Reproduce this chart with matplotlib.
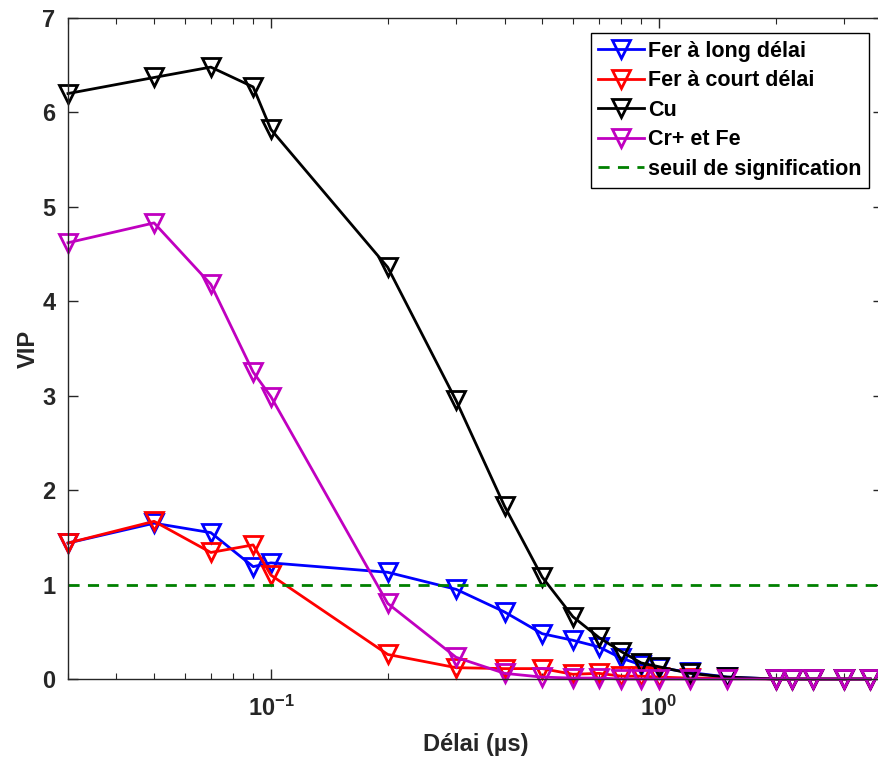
import numpy as np
import matplotlib.pyplot as plt

plt.rcParams['font.family'] = ['Liberation Sans', 'DejaVu Sans']
plt.rcParams['font.weight'] = 'bold'
plt.rcParams['mathtext.fontset'] = 'custom'
plt.rcParams['mathtext.rm'] = 'Liberation Sans:bold'
plt.rcParams['mathtext.it'] = 'Liberation Sans:bold'
plt.rcParams['mathtext.bf'] = 'Liberation Sans:bold'
plt.rcParams['mathtext.default'] = 'regular'
plt.rcParams['axes.unicode_minus'] = False

# delays (µs)
delai = [0.03, 0.05, 0.07, 0.09, 0.1, 0.2, 0.3, 0.4, 0.5, 0.6, 0.7, 0.8, 0.9,
         1.0, 1.2, 1.5, 2.0, 2.2, 2.5, 3.0, 3.5]

# VIP values per series
fer_long = [1.44, 1.65, 1.55, 1.19, 1.23, 1.13, 0.95, 0.71, 0.48, 0.41, 0.34,
            0.22, 0.15, 0.12, 0.07, 0.02, 0.0, 0.0, 0.0, 0.0, 0.0]
fer_court = [1.44, 1.67, 1.34, 1.42, 1.10, 0.26, 0.12, 0.11, 0.11, 0.05, 0.06,
             0.03, 0.03, 0.02, 0.01, 0.01, 0.0, 0.0, 0.0, 0.0, 0.0]
cu = [6.20, 6.37, 6.48, 6.27, 5.82, 4.36, 2.95, 1.83, 1.08, 0.66, 0.44,
      0.29, 0.17, 0.13, 0.06, 0.02, 0.0, 0.0, 0.0, 0.0, 0.0]
cr_fe = [4.62, 4.83, 4.18, 3.25, 2.99, 0.80, 0.23, 0.06, 0.02, 0.01, 0.01,
         0.0, 0.0, 0.0, 0.0, 0.0, 0.0, 0.0, 0.0, 0.0, 0.0]
seuil = 1.0

fig = plt.figure(figsize=(8.79, 7.6), dpi=100)
ax = fig.add_axes([68/879, 81/760, (883-68)/879, (679-18)/760])

style = dict(marker='v', markerfacecolor='none', markersize=13, markeredgewidth=2,
             linewidth=2, clip_on=False)
ax.plot(delai, fer_long, color='#0000ff', label='Fer à long délai', **style)
ax.plot(delai, fer_court, color='#ff0000', label='Fer à court délai', **style)
ax.plot(delai, cu, color='black', label='Cu', **style)
ax.plot(delai, cr_fe, color='#c000c0', label='Cr+ et Fe', **style)
ax.axhline(seuil, color='#008000', linestyle=(0, (4, 3)), linewidth=2, label='seuil de signification')

ax.set_xscale('log')
ax.set_xlim(0.03, 10 ** ((883 - 659) / 388))
ax.set_ylim(0, 7)
ax.set_yticks(range(8))

ax.tick_params(which='both', direction='in', top=True, right=True, colors='#262626', labelsize=17)
ax.tick_params(which='major', length=7, width=1)
ax.tick_params(which='minor', length=4, width=0.8)
ax.tick_params(axis='x', which='both', pad=12)
ax.tick_params(axis='y', which='both', pad=9)
for s in ax.spines.values():
    s.set_color('#262626')
    s.set_linewidth(1)

ax.set_xlabel('Délai (µs)', fontsize=17, fontweight='bold', color='#262626', labelpad=9)
ax.set_ylabel('VIP', fontsize=17, fontweight='bold', color='#262626', labelpad=2)

leg = ax.legend(loc='upper right', bbox_to_anchor=(869/879, 1 - 33/760), bbox_transform=fig.transFigure,
                borderaxespad=0, fontsize=15.5, fancybox=False, edgecolor='black', framealpha=1,
                handlelength=2.1, handletextpad=0.2, labelspacing=0.4, borderpad=0.35)
leg.get_frame().set_linewidth(1)

fig.savefig('out.png', dpi=100)
